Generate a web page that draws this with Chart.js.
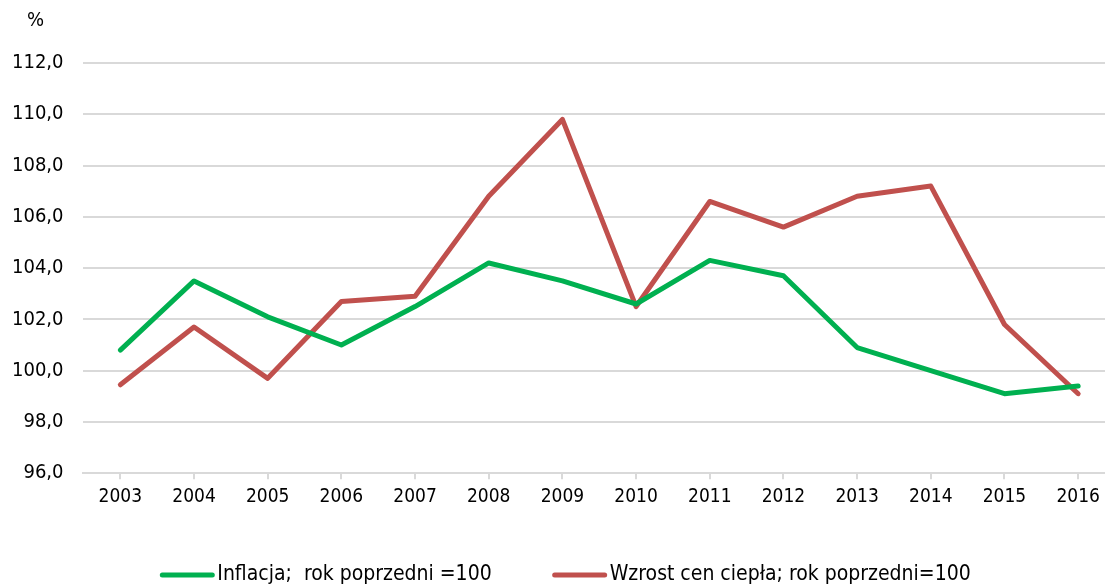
<!DOCTYPE html>
<html>
<head>
<meta charset="utf-8">
<script src="https://cdn.jsdelivr.net/npm/chart.js@4/dist/chart.umd.min.js"></script>
<style>
html,body{margin:0;padding:0;background:#fff;overflow:hidden;}
#wrap{position:relative;width:1130px;height:585px;}
</style>
</head>
<body>
<div id="wrap"><canvas id="c"></canvas></div>
<script>
const years = ['2003','2004','2005','2006','2007','2008','2009','2010','2011','2012','2013','2014','2015','2016'];
const inflacja = [100.8,103.5,102.1,101.0,102.5,104.2,103.5,102.6,104.3,103.7,100.9,100.0,99.1,99.4];
const cenyCiepla = [99.45,101.7,99.7,102.7,102.9,106.8,109.8,102.5,106.6,105.6,106.8,107.2,101.8,99.1];
const seriesNames = ['Inflacja;  rok poprzedni =100','Wzrost cen ciepła; rok poprzedni=100'];
const yMin = 96, yMax = 112, yStep = 2;
const unitLabel = '%';

const FONT = '"DejaVu Sans Condensed", "DejaVu Sans", sans-serif';
const GREEN = '#00B050', RED = '#C0504D', GRID = '#d9d9d9';

const extras = {
  id: 'extras',
  afterDraw(chart) {
    const ctx = chart.ctx;
    ctx.save();
    ctx.font = '20px ' + FONT;
    ctx.fillStyle = '#000';
    ctx.textBaseline = 'middle';
    ctx.textAlign = 'left';
    ctx.fillText(unitLabel, 27, 21);
    // legend
    ctx.font = '21px ' + FONT;
    const ds = chart.data.datasets;
    const sample = 56, gap = 2, spacer = 60;
    const widths = ds.map(d => ctx.measureText(d.label).width);
    let total = 0;
    widths.forEach((w, i) => { total += sample + gap + w + (i ? spacer : 0); });
    let x = chart.width / 2 - total / 2;
    const y = 575;
    ds.forEach((d, i) => {
      ctx.strokeStyle = d.borderColor;
      ctx.lineWidth = 5;
      ctx.lineCap = 'round';
      ctx.beginPath();
      ctx.moveTo(x + 3, y);
      ctx.lineTo(x + sample - 3, y);
      ctx.stroke();
      ctx.fillStyle = '#000';
      ctx.fillText(d.label, x + sample + gap, y);
      x += sample + gap + widths[i] + spacer;
    });
    ctx.restore();
  }
};

new Chart(document.getElementById('c'), {
  type: 'line',
  data: {
    labels: years,
    datasets: [
      {label: seriesNames[0], data: inflacja, borderColor: GREEN, backgroundColor: GREEN, borderWidth: 5, pointRadius: 0, tension: 0, borderCapStyle: 'round', borderJoinStyle: 'round'},
      {label: seriesNames[1], data: cenyCiepla, borderColor: RED, backgroundColor: RED, borderWidth: 5, pointRadius: 0, tension: 0, borderCapStyle: 'round', borderJoinStyle: 'round'}
    ]
  },
  options: {
    responsive: true,
    maintainAspectRatio: false,
    animation: false,
    layout: {padding: {top: 63, right: 15, bottom: 71, left: -8}},
    plugins: {legend: {display: false}, tooltip: {enabled: false}},
    scales: {
      x: {
        offset: true,
        grid: {display: true, drawOnChartArea: false, offset: false, color: GRID, lineWidth: 2, tickLength: 6},
        border: {color: GRID, width: 2},
        ticks: {color: '#000', font: {family: FONT, size: 19}, padding: 6, maxRotation: 0}
      },
      y: {
        min: yMin, max: yMax,
        grid: {color: GRID, lineWidth: 2, drawTicks: false},
        border: {display: false},
        ticks: {stepSize: yStep, color: '#000', font: {family: FONT, size: 20}, padding: 20,
          callback: v => v.toFixed(1).replace('.', ',')}
      }
    }
  },
  plugins: [extras]
});
</script>
</body>
</html>
